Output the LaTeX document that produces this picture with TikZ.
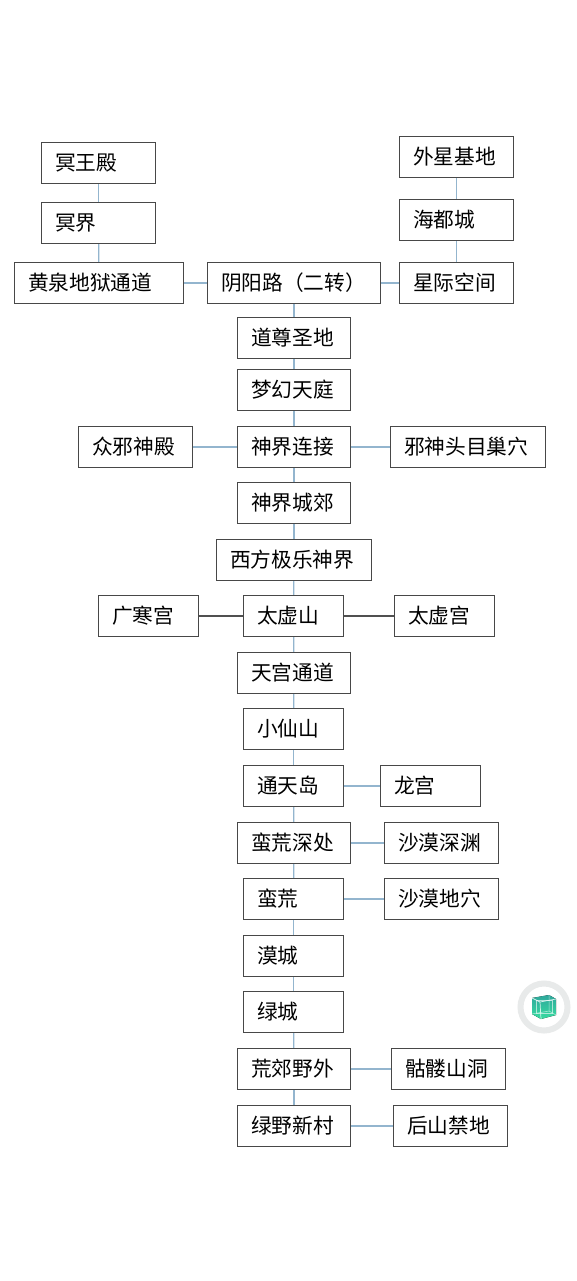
\documentclass[tikz,border=0pt]{standalone}
\usepackage{fontspec}
\setmainfont{Noto Sans CJK SC}
\definecolor{boxline}{HTML}{484848}
\definecolor{linkblue}{HTML}{93B5CE}
\definecolor{linkdark}{HTML}{505050}
\definecolor{ringgray}{HTML}{E8EAEA}
\definecolor{cubetop}{HTML}{2FA89C}
\definecolor{cubebot}{HTML}{38DCA0}
\tikzset{
  mapbox/.style={draw=boxline,line width=1.05pt,fill=white,inner xsep=13.7pt,inner ysep=0pt,align=left,text=black,
    font=\fontsize{20.7}{24}\selectfont},
  bluelink/.style={draw=linkblue,line width=1.25pt},
  darklink/.style={draw=linkdark,line width=1.05pt},
}
\newcommand{\mapnode}[6]{%
  \pgfmathsetmacro{\mh}{#5-#3-0.7}%
  \pgfmathsetmacro{\mtw}{#4-#2-28.1}%
  \node[mapbox,text width=\mtw pt,minimum height=\mh pt,anchor=center] (#1) at ({(#2+#4)/2},{(#3+#5)/2}) {#6};%
}
\begin{document}
\begin{tikzpicture}[x=1pt,y=-1pt]
\useasboundingbox (0,0) rectangle (576,1281);
\fill[white] (0,0) rectangle (576,1281);
\mapnode{a1}{41}{142}{156}{184}{冥王殿}
\mapnode{a2}{41}{202}{156}{244}{冥界}
\mapnode{a3}{14}{262}{184}{304}{黄泉地狱通道}
\mapnode{b0}{207}{262}{381}{304}{阴阳路（二转）}
\mapnode{c1}{399}{136}{514}{178}{外星基地}
\mapnode{c2}{399}{199}{514}{241}{海都城}
\mapnode{c3}{399}{262}{514}{304}{星际空间}
\mapnode{b1}{237}{317}{351}{359}{道尊圣地}
\mapnode{b2}{237}{369}{351}{411}{梦幻天庭}
\mapnode{l3}{78}{426}{193}{468}{众邪神殿}
\mapnode{b3}{237}{426}{351}{468}{神界连接}
\mapnode{r3}{390}{426}{546}{468}{邪神头目巢穴}
\mapnode{b4}{237}{482}{351}{524}{神界城郊}
\mapnode{b5}{216}{539}{372}{581}{西方极乐神界}
\mapnode{l6}{98}{595}{199}{637}{广寒宫}
\mapnode{b6}{243}{595}{344}{637}{太虚山}
\mapnode{r6}{394}{595}{495}{637}{太虚宫}
\mapnode{b7}{237}{652}{351}{694}{天宫通道}
\mapnode{b8}{243}{708}{344}{750}{小仙山}
\mapnode{b9}{243}{765}{344}{807}{通天岛}
\mapnode{r9}{380}{765}{481}{807}{龙宫}
\mapnode{b10}{237}{822}{351}{864}{蛮荒深处}
\mapnode{r10}{384}{822}{499}{864}{沙漠深渊}
\mapnode{b11}{243}{878}{344}{920}{蛮荒}
\mapnode{r11}{384}{878}{499}{920}{沙漠地穴}
\mapnode{b12}{243}{935}{344}{977}{漠城}
\mapnode{b13}{243}{991}{344}{1033}{绿城}
\mapnode{b14}{237}{1048}{351}{1090}{荒郊野外}
\mapnode{r14}{391}{1048}{506}{1090}{骷髅山洞}
\mapnode{b15}{237}{1105}{351}{1147}{绿野新村}
\mapnode{r15}{393}{1105}{508}{1147}{后山禁地}
\foreach \p/\q in {a1/a2,a2/a3,c1/c2,c2/c3,a3/b0,b0/c3,b0/b1,b1/b2,b2/b3,l3/b3,b3/r3,b3/b4,b4/b5,b5/b6,b6/b7,b7/b8,b8/b9,b9/r9,b9/b10,b10/r10,b10/b11,b11/r11,b11/b12,b12/b13,b13/b14,b14/r14,b14/b15,b15/r15}
  \draw[bluelink] (\p) -- (\q);
\draw[darklink] (l6) -- (b6);
\draw[darklink] (b6) -- (r6);
% floating cube badge
\draw[ringgray,line width=6pt,fill=white] (544,1007) circle (23.5);
\fill[top color=cubetop,bottom color=cubebot] (532,998) -- (549,995) -- (556,999) -- (556,1015) -- (541,1019) -- (532,1014) -- cycle;
\draw[white,opacity=0.8,line width=0.7pt] (532,998) -- (540,1002) -- (556,999);
\draw[white,opacity=0.8,line width=0.7pt] (540,1002) -- (541,1019);
\draw[white,opacity=0.6,line width=0.5pt] (536,1000) rectangle (552,1013);
\draw[white,opacity=0.6,line width=0.5pt] (549,995) -- (549,1011) -- (532,1014);
\draw[white,opacity=0.6,line width=0.5pt] (549,1011) -- (556,1015);
\end{tikzpicture}
\end{document}
